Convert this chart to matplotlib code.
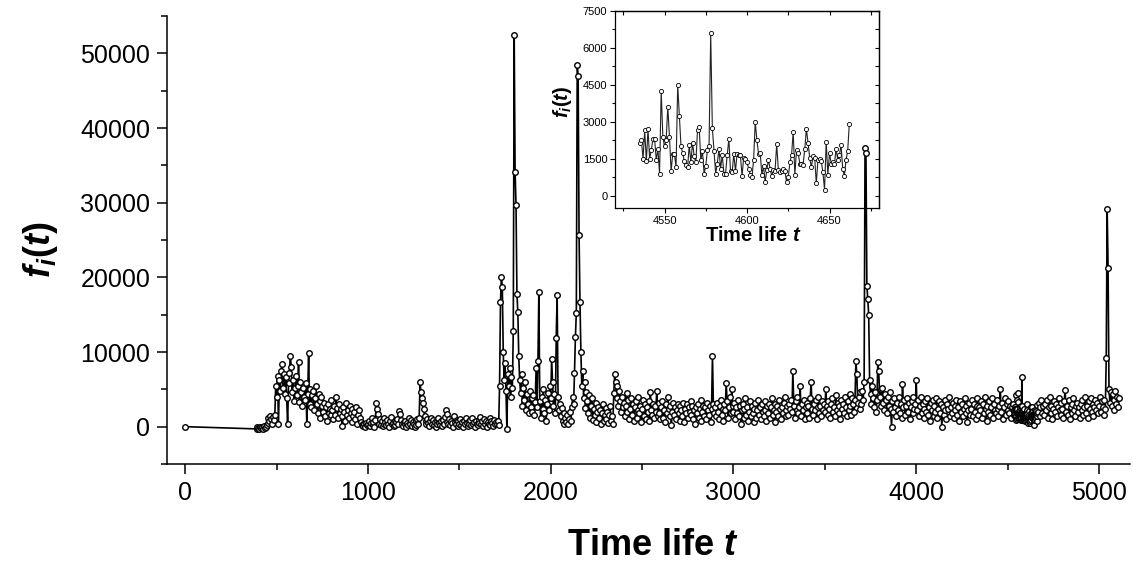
import matplotlib
matplotlib.use("Agg")
import matplotlib.pyplot as plt
from matplotlib.ticker import MultipleLocator

plt.rcParams['font.family'] = ['Liberation Sans', 'DejaVu Sans']
plt.rcParams['mathtext.fontset'] = 'custom'
plt.rcParams['mathtext.it'] = 'Liberation Sans:bold:italic'
plt.rcParams['mathtext.rm'] = 'Liberation Sans:bold'
plt.rcParams['mathtext.bf'] = 'Liberation Sans:bold'

# ---------------- data (main series, values in hundreds, step 5) -------------
SCALE = 100
STEP = 5
first_t, first_f = 0, 0

seg_a_start = 390
seg_a = [-3, -1, -2, -3, 0, -2, -1, -3, 1, -2, 0, 2,
         5, 12, 8, 14, 10, 3, 13, 9, 15,
         55, 40, 68, 3, 62, 48, 75, 84, 52, 70, 44, 66,
         38, 3, 58, 72, 95, 80, 46, 62, 35, 52,
         68, 42, 55, 86, 33, 60, 47, 28, 52, 40,
         36, 58, 3, 44, 99, 30, 50, 26, 42, 48,
         22, 38, 54, 30, 18, 44, 35, 12, 40, 28,
         20, 32, 14, 26, 8, 30, 18, 24, 36, 15,
         22, 10, 28, 16, 40, 25, 12, 30, 18, 24,
         14, 1, 26, 20, 8, 32, 16, 22, 12, 28,
         18, 6, 24, 14, 20, 10, 26, 4, 16, 22,
         12, 6, 2, 4, 1, 3, 0, 5, 2]

seg_b_start = 1000
seg_b = [3, 8, 1, 5, 12, 2, 6, 0, 9, 32, 24, 17, 4, 10, 2, 7, 1, 11, 3, 6,
         2, 9, 4, 0, 7, 13, 3, 5, 1, 8, 2, 6, 10, 3, 21, 17, 9, 4, 1, 6,
         3, 8, 0, 5, 2, 11, 4, 9, 1, 6, 3, 0, 7, 2, 10, 4, 12, 60, 46, 39,
         32, 24, 14, 8, 3, 10, 5, 1, 7, 12, 4, 9, 2, 6, 0, 8, 3, 11, 5, 2,
         7, 1, 9, 4, 13, 22, 17, 6, 3, 10, 2, 8, 5, 0, 14, 6, 3, 9, 1, 7,
         4, 10, 2, 6, 0, 8, 3, 12, 5, 1, 7, 4, 9, 2, 11, 3, 6, 0, 8, 4,
         2, 9, 5, 13, 3, 7, 1, 10, 4, 8, 0, 6, 3, 11, 2, 7, 5, 1, 9, 4]

seg_c_start = 1700
seg_c = [6, 3, 8, 2, 55, 167, 201, 187, 100, 62, 85, 48, -3, 70, 55, 78, 40, 66, 52, 128,
         524, 341, 297, 178, 153, 94, 62, 45, 70, 28, 52, 36, 60, 22, 44, 30, 18, 48, 26, 38,
         20, 42, 15, 33, 79, 27, 88, 181, 35, 12, 40, 24, 50, 18, 36, 8, 30, 45, 22, 54,
         38, 90, 60, 28, 44, 18, 119, 177, 40, 22, 30, 14, 25, 8, 18, 4, 12, 6, 15, 3,
         10, 20, 8, 26, 40, 30, 72, 120, 152, 485, 469, 257, 167, 100, 55, 74, 38, 60, 25, 46,
         35, 18, 42, 12, 28, 38, 9, 24, 16, 32, 6, 20, 27, 11, 22, 4, 18, 30, 8, 15,
         25, 10, 20, 5, 16, 28, 8, 14, 3, 45, 70, 60, 38, 55, 28, 48, 35, 20, 40, 26]

seg_d_start = 2400
seg_d = [32, 14, 28, 45, 20, 36, 10, 24, 38, 16, 30, 8, 26, 34, 12, 22, 40, 18, 28, 6,
         24, 36, 14, 30, 10, 26, 20, 34, 8, 47, 22, 16, 30, 12, 28, 20, 48, 14, 32, 18,
         10, 26, 34, 12, 22, 6, 30, 18, 40, 24, 14, 28, 2, 20, 32, 16, 26, 10, 22, 30,
         18, 8, 28, 22, 14, 32, 6, 24, 18, 30, 12, 26, 20, 35, 16, 28, 10, 22, 4, 26,
         18, 30, 12, 24, 36, 8, 20, 28, 14, 26, 10, 32, 22, 16, 28, 6, 24, 95, 30, 18,
         26, 14, 32, 20, 10, 28, 36, 16, 24, 8, 30, 22, 59, 34, 12, 26, 40, 18, 50, 28]

seg_e_start = 3000
seg_e = [20, 32, 10, 26, 18, 36, 14, 28, 4, 22, 30, 12, 24, 38, 16, 26, 8, 20, 34, 14,
         28, 18, 6, 24, 32, 12, 22, 36, 16, 26, 10, 30, 20, 14, 34, 22, 8, 28, 18, 30,
         12, 26, 38, 16, 22, 6, 30, 20, 28, 14, 36, 24, 10, 26, 18, 32, 40, 14, 22, 28,
         16, 30, 24, 36, 20, 75, 28, 12, 34, 22, 40, 18, 26, 55, 14, 30, 22, 36, 10, 26,
         32, 18, 28, 12, 38, 60, 24, 16, 30, 22, 36, 10, 26, 40, 18, 28, 14, 34, 22, 30,
         20, 50, 28, 16, 34, 24, 12, 30, 38, 20, 26, 14, 42, 22, 32, 18, 28, 10, 36, 24,
         30, 18, 40, 26, 14, 34, 22, 44, 28, 16, 38, 30, 20, 36, 88, 70, 32, 40, 24, 46]

seg_f_start = 3700
seg_f = [30, 48, 36, 60, 373, 366, 189, 171, 150, 62, 44, 30, 54, 38, 26, 46, 20, 36, 86, 75,
         40, 28, 50, 52, 32, 22, 44, 36, 18, 40, 28, 46, 24, 0, 34, 20, 38, 26, 14, 32,
         22, 40, 18, 30, 12, 57, 26, 36, 16, 28, 38, 20, 32, 10, 26, 34, 18, 40, 24, 30,
         62, 22, 36, 14, 28, 40, 18, 30, 24, 12, 34, 20, 38, 16, 26, 8, 32, 22, 36, 14,
         28, 20, 38, 12, 24, 34, 18, 30, 0, 26, 16, 36, 22, 10, 30, 24, 40, 14, 26, 18,
         32, 12, 28, 22, 36, 16, 26, 8, 34, 20, 30, 14, 24, 38, 18, 28, 6, 22, 32, 16]

seg_g_start = 4300
seg_g = [24, 36, 14, 30, 20, 10, 28, 38, 16, 26, 22, 34, 12, 30, 18, 40, 24, 8, 28, 20,
         34, 16, 26, 38, 12, 30, 22, 18, 36, 24, 14, 28, 51, 20, 32, 10, 26, 38, 16, 30,
         22, 34, 18, 28, 12, 26, 30]

seg_h_start = 4665
seg_h = [20, 32, 14, 26, 36, 18, 28,
         16, 30, 22, 36, 12, 26, 40, 18, 28, 10, 24, 34, 20, 30, 14, 26, 38, 22, 16, 32,
         24, 12, 34, 49, 20, 28, 16, 36, 10, 26, 30, 18, 38, 22, 14, 28, 32, 20, 26, 12,
         30, 22, 36, 16, 26, 40, 18, 28, 12, 34, 24, 38, 20, 30, 14, 26, 36, 22, 32, 18,
         28, 40, 20, 34, 26, 16, 36, 24, 92, 292, 213, 50, 32, 46, 28, 44, 36, 22, 48, 30,
         40, 26, 38]

# ---------------- inset data (step 1) ---------------------------------------
inset_start = 4535
inset_f = [2150, 2250, 1500, 2650, 1400, 2700, 1500, 1850, 2300, 2300, 1450, 1900,
           900, 4250, 2400, 2000, 2250, 3600, 2400, 1000, 1700, 1700, 1150, 4500, 3250, 2000, 1750, 1400,
           1250, 1150, 2050, 1350, 2150, 1600, 1350, 2650, 2800, 1450, 1800, 900, 1200, 1850, 2000, 6600, 2750, 1800,
           900, 1300, 1900, 1100, 1650, 900, 900, 1650, 2300, 1000, 950, 1700, 1000, 1700, 1650, 1650, 800, 1550, 1500, 1350,
           1100, 850, 750, 1450, 3000, 2250, 1700, 1750, 850, 1200, 550, 1050, 1450, 1100, 800, 1050, 1000, 2100, 1050, 950,
           1000, 1100, 1000, 550, 750, 1350, 1650, 2600, 850, 1850, 1750, 1300, 1300, 1250, 1900, 2700, 2150, 1550, 1150, 1600,
           1550, 500, 1450, 1500, 1400, 950, 250, 2200, 850, 1750, 1300, 1350, 1300, 1900, 1450, 1650, 2050, 1100, 800, 1450, 1800, 2900]
inset_t = [inset_start + k for k in range(len(inset_f))]


def expand(start, vals):
    return [start + STEP * k for k in range(len(vals))], [v * SCALE for v in vals]


t_main, f_main = [first_t], [first_f]
for s, v in [(seg_a_start, seg_a), (seg_b_start, seg_b), (seg_c_start, seg_c),
             (seg_d_start, seg_d), (seg_e_start, seg_e), (seg_f_start, seg_f),
             (seg_g_start, seg_g)]:
    tt, ff = expand(s, v)
    t_main += tt
    f_main += ff
t_main += inset_t
f_main += inset_f
tt, ff = expand(seg_h_start, seg_h)
t_main += tt
f_main += ff

# ---------------- figure -----------------------------------------------------
W, H = 1133, 562
fig = plt.figure(figsize=(W / 100, H / 100), dpi=100)
ax = fig.add_axes([167 / W, 1 - 464 / H, (1130 - 167) / W, (464 - 16) / H])

ax.plot(t_main, f_main, '-o', color='black', lw=1.2, ms=4.0,
        mfc='white', mec='black', mew=1.0)
ax.set_xlim(-100, 5170)
ax.set_ylim(-5000, 55000)
for s in ['top', 'right']:
    ax.spines[s].set_visible(False)
for s in ['left', 'bottom']:
    ax.spines[s].set_linewidth(1.1)
ax.xaxis.set_major_locator(MultipleLocator(1000))
ax.xaxis.set_minor_locator(MultipleLocator(500))
ax.yaxis.set_major_locator(MultipleLocator(10000))
ax.yaxis.set_minor_locator(MultipleLocator(5000))
ax.tick_params(which='major', direction='out', length=7, width=1.1, labelsize=18, pad=5)
ax.tick_params(which='minor', direction='out', length=4, width=1.1)

fig.text(40 / W, 1 - 250 / H, r'$f_i(t)$', rotation=90, ha='center', va='center',
         fontsize=26)
fig.text(653 / W, 1 - 555 / H, r'Time life $t$', ha='center', va='baseline',
         fontsize=26, fontweight='bold')

# ---------------- inset (transparent background) ----------------------------
ins = fig.add_axes([615 / W, 1 - 208 / H, (879 - 615) / W, (208 - 11) / H])
ins.patch.set_alpha(0)
ins.plot(inset_t, inset_f, '-o', color='#222222', lw=0.8, ms=3.0,
         mfc='white', mec='black', mew=0.6)
ins.set_xlim(4520, 4680)
ins.set_ylim(-500, 7500)
ins.xaxis.set_major_locator(MultipleLocator(50))
ins.xaxis.set_minor_locator(MultipleLocator(25))
ins.yaxis.set_major_locator(MultipleLocator(1500))
ins.yaxis.set_minor_locator(MultipleLocator(750))
for s in ins.spines.values():
    s.set_linewidth(0.9)
ins.tick_params(which='major', direction='out', length=3.5, width=0.8, labelsize=8, pad=2)
ins.tick_params(which='minor', direction='out', length=2.5, width=0.8)

sec_x = ins.secondary_xaxis('top')
sec_x.xaxis.set_major_locator(MultipleLocator(25))
sec_x.tick_params(axis='x', which='both', direction='in', length=3, width=0.8,
                  labeltop=False, labelbottom=False)
sec_x.spines['top'].set_linewidth(0.9)
sec_y = ins.secondary_yaxis('right')
sec_y.yaxis.set_major_locator(MultipleLocator(750))
sec_y.tick_params(axis='y', which='both', direction='in', length=3, width=0.8,
                  labelright=False, labelleft=False)
sec_y.spines['right'].set_linewidth(0.9)

fig.text(563 / W, 1 - 102 / H, r'$f_i(t)$', rotation=90, ha='center', va='center',
         fontsize=14.5)
fig.text(753 / W, 1 - 241 / H, r'Time life $t$', ha='center', va='baseline',
         fontsize=14.5, fontweight='bold')

fig.savefig('out.png', dpi=100)
